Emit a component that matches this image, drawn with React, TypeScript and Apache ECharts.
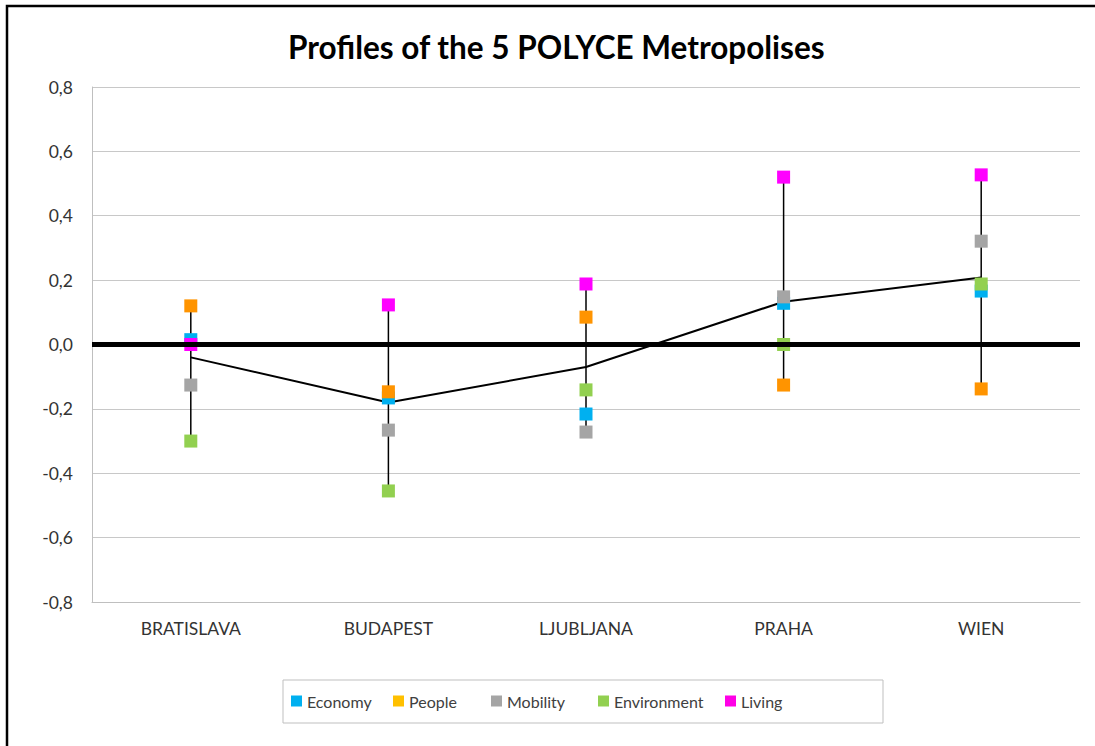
import React, { useEffect, useRef } from "react";
import * as echarts from "echarts";

const categories = ["BRATISLAVA", "BUDAPEST", "LJUBLJANA", "PRAHA", "WIEN"];
const economy = [0.015, -0.166, -0.216, 0.128, 0.166];
const people = [0.12, -0.147, 0.085, -0.126, -0.138];
const mobility = [-0.126, -0.266, -0.272, 0.148, 0.321];
const environment = [-0.3, -0.455, -0.141, 0.0, 0.188];
const living = [0.0, 0.123, 0.188, 0.52, 0.527];
const average = [-0.04, -0.18, -0.07, 0.133, 0.208];
const yTicks = [-0.8, -0.6, -0.4, -0.2, 0, 0.2, 0.4, 0.6, 0.8];

const seriesDefs = [
  { name: "Economy", data: economy, color: "#00B0F0", legendColor: "#00B0F0" },
  { name: "People", data: people, color: "#FF9400", legendColor: "#FFC000" },
  { name: "Mobility", data: mobility, color: "#A5A5A5", legendColor: "#A5A5A5" },
  { name: "Environment", data: environment, color: "#92D050", legendColor: "#92D050" },
  { name: "Living", data: living, color: "#FF00FF", legendColor: "#FF00E6" },
];
const legendLefts = [286, 388, 486, 593, 720];

export default function App() {
  const ref = useRef<HTMLDivElement>(null);
  useEffect(() => {
    document.body.style.margin = "0";
    if (!ref.current) return;
    const chart = echarts.init(ref.current, null, { renderer: "svg" });
    const ranges = categories.map((_, i) => {
      const vals = seriesDefs.map((s) => s.data[i]);
      return [i, Math.min(...vals), Math.max(...vals)];
    });
    const font = "Lato, 'Open Sans', sans-serif";
    chart.setOption({
      animation: false,
      backgroundColor: "#fff",
      title: {
        text: "Profiles of the 5 POLYCE Metropolises",
        left: 283,
        top: 26,
        textStyle: { fontFamily: font, fontWeight: "bold", fontSize: 31.5, color: "#000" },
      },
      grid: { left: 92, right: 15, top: 87, bottom: 144 },
      legend: seriesDefs.map((s, i) => ({
        data: [{ name: s.name, itemStyle: { color: s.legendColor } }],
        left: legendLefts[i],
        top: 688,
        icon: "rect",
        itemWidth: 11,
        itemHeight: 11,
        itemGap: 5,
        selectedMode: false,
        textStyle: { fontFamily: font, fontSize: 16, color: "#404040" },
      })),
      xAxis: {
        type: "category",
        data: categories,
        boundaryGap: true,
        axisLine: { onZero: false, lineStyle: { color: "#BFBFBF", width: 1 } },
        axisTick: { show: false },
        axisLabel: { fontFamily: font, fontSize: 17.5, color: "#333", margin: 17 },
        splitLine: { show: false },
      },
      yAxis: {
        type: "value",
        min: yTicks[0],
        max: yTicks[yTicks.length - 1],
        interval: 0.2,
        axisLine: { show: true, lineStyle: { color: "#BFBFBF", width: 1 } },
        axisTick: { show: false },
        splitLine: { lineStyle: { color: "#C8C8C8", width: 1 } },
        axisLabel: {
          fontFamily: font,
          fontSize: 17.5,
          color: "#333",
          margin: 19,
          formatter: (v: number) => (Math.abs(v) < 1e-9 ? "0,0" : v.toFixed(1).replace(".", ",")),
        },
      },
      graphic: [
        {
          type: "rect",
          shape: { x: 7, y: 6, width: 1200, height: 900 },
          style: { fill: "none", stroke: "#000", lineWidth: 2.5 },
          silent: true,
        },
        {
          type: "rect",
          shape: { x: 283, y: 680, width: 600, height: 43 },
          style: { fill: "none", stroke: "#BFBFBF", lineWidth: 1 },
          silent: true,
        },
      ],
      series: [
        {
          type: "custom",
          name: "range",
          z: 1,
          silent: true,
          data: ranges,
          renderItem: (_params: any, api: any) => {
            const p1 = api.coord([api.value(0), api.value(1)]);
            const p2 = api.coord([api.value(0), api.value(2)]);
            return {
              type: "line",
              shape: { x1: p1[0], y1: p1[1], x2: p2[0], y2: p2[1] },
              style: { stroke: "#000", lineWidth: 1.5 },
            };
          },
          encode: { x: 0, y: [1, 2] },
        },
        {
          type: "line",
          name: "Average",
          z: 2,
          data: average,
          symbol: "none",
          lineStyle: { color: "#000", width: 2 },
          silent: true,
          markLine: {
            silent: true,
            symbol: "none",
            label: { show: false },
            lineStyle: { color: "#000", width: 5, type: "solid" },
            data: [{ yAxis: 0 }],
          },
        },
        ...seriesDefs.map((s) => ({
          type: "scatter",
          name: s.name,
          z: 3,
          data: s.data,
          symbol: "rect",
          symbolSize: 13,
          itemStyle: { color: s.color, opacity: 1 },
        })),
      ],
    });
    return () => chart.dispose();
  }, []);
  return <div ref={ref} style={{ width: 1095, height: 746 }} />;
}
